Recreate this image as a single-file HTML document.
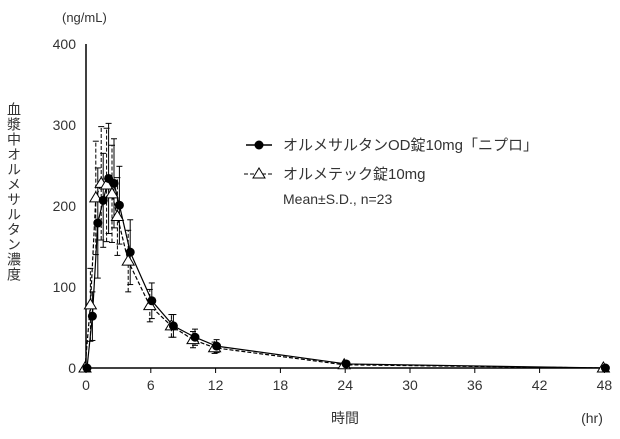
<!DOCTYPE html><html><head><meta charset="utf-8"><style>body{margin:0;background:#fff}svg text{font-family:"Liberation Sans","Noto Sans CJK JP",sans-serif;fill:#333}</style></head><body>
<svg id="s" width="620" height="434" xmlns="http://www.w3.org/2000/svg">
<text x="62" y="22" font-size="13">(ng/mL)</text>
<g font-size="14" text-anchor="end"><text x="76" y="49">400</text><text x="76" y="130">300</text><text x="76" y="211">200</text><text x="76" y="292">100</text><text x="76" y="373">0</text></g>
<line x1="86" y1="44" x2="86" y2="368" stroke="#000" stroke-width="1.5"/>
<line x1="86" y1="368" x2="606" y2="368" stroke="#000" stroke-width="1.5"/>
<g font-size="14" text-anchor="middle" id="xt"></g>
<text x="345" y="423" font-size="14" text-anchor="middle">時間</text>
<text x="592" y="423" font-size="14" text-anchor="middle">(hr)</text>
<text font-size="14" writing-mode="tb" x="14" y="102" letter-spacing="1">血漿中オルメサルタン濃度</text>
<g id="d"></g>
<line x1="246" y1="145" x2="272" y2="145" stroke="#000" stroke-width="1.5"/><circle cx="259" cy="145" r="4.5" fill="#000"/>
<text x="283" y="150" font-size="15">オルメサルタンOD錠10mg「ニプロ」</text>
<line x1="244" y1="174" x2="274" y2="174" stroke="#000" stroke-dasharray="4,2"/><polygon points="259,168 265,178 253,178" fill="#fff" stroke="#000"/>
<text x="283" y="179" font-size="15">オルメテック錠10mg</text>
<text x="283" y="204" font-size="14">Mean±S.D., n=23</text>
</svg>
<script>
const X=t=>86+t*10.8,Y=v=>368-v*0.81,N="http://www.w3.org/2000/svg";
let xt=document.getElementById('xt'),d=document.getElementById('d'),h='';
for(let t=0;t<=48;t+=6){xt.innerHTML+=`<text x="${X(t)}" y="390">${t}</text>`;h+=`<line x1="${X(t)}" y1="368" x2="${X(t)}" y2="373" stroke="#000"/>`;}
const T=[0,0.5,1,1.5,2,2.5,3,4,6,8,10,12,24,48];
const C=[0,64,179,207,234,228,201,143,83,52,38,27,5,0],CS=[0,30,68,58,68,55,48,40,22,14,10,8,2,0];
const D=[0,78,210,228,226,215,187,132,77,52,35,25,4,0],DS=[0,45,70,70,70,60,48,38,20,14,10,7,2,0];
function ser(v,s,dash,dx){let p=T.map((t,i)=>`${X(t)+dx},${Y(v[i])}`).join(' ');
h+=`<polyline points="${p}" fill="none" stroke="#000" stroke-width="1.2" ${dash?'stroke-dasharray="4,2"':''}/>`;
T.forEach((t,i)=>{if(s[i]){let x=X(t)+dx;h+=`<line x1="${x}" y1="${Y(v[i]-s[i])}" x2="${x}" y2="${Y(v[i]+s[i])}" stroke="#000" ${dash?'stroke-dasharray="4,2"':''}/><line x1="${x-3}" x2="${x+3}" y1="${Y(v[i]-s[i])}" y2="${Y(v[i]-s[i])}" stroke="#000"/><line x1="${x-3}" x2="${x+3}" y1="${Y(v[i]+s[i])}" y2="${Y(v[i]+s[i])}" stroke="#000"/>`}});}
ser(D,DS,true,-1);ser(C,CS,false,1);
T.forEach((t,i)=>{let x=X(t)-1,y=Y(D[i]);h+=`<polygon points="${x},${y-6} ${x+6},${y+4} ${x-6},${y+4}" fill="#fff" stroke="#000"/>`;});
T.forEach((t,i)=>{h+=`<circle cx="${X(t)+1}" cy="${Y(C[i])}" r="4.5" fill="#000"/>`;});
d.innerHTML=h;
</script></body></html>
